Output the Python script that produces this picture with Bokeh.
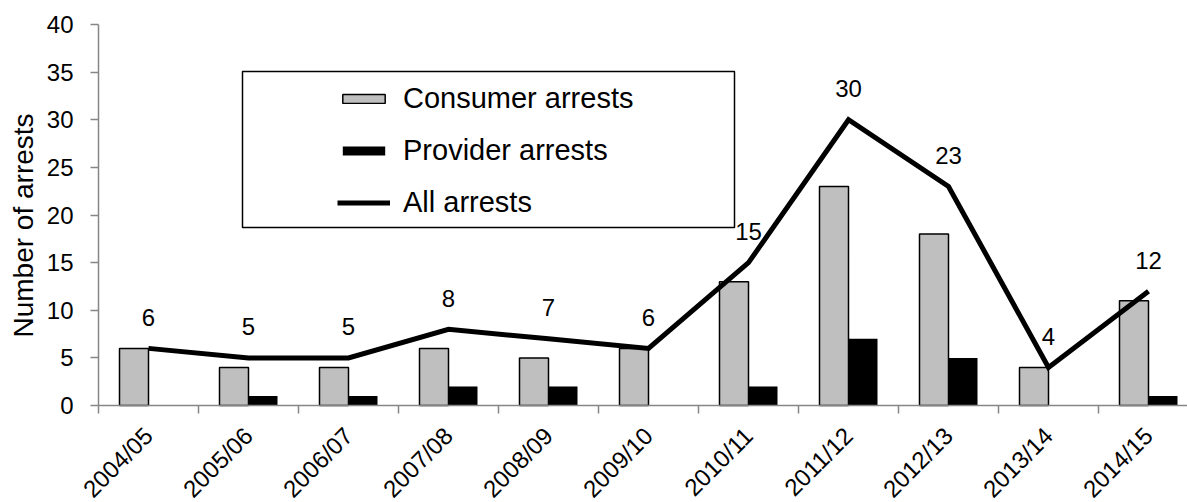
import math
from bokeh.plotting import figure
from bokeh.models import Range1d, FixedTicker, Legend, LegendItem, BoxAnnotation, Title
from bokeh.core.properties import value
from bokeh.embed import file_html
from bokeh.resources import INLINE

categories = ["2004/05", "2005/06", "2006/07", "2007/08", "2008/09", "2009/10",
              "2010/11", "2011/12", "2012/13", "2013/14", "2014/15"]
consumer = [6, 4, 4, 6, 5, 6, 13, 23, 18, 4, 11]
provider = [0, 1, 1, 2, 2, 0, 2, 7, 5, 0, 1]
all_arrests = [6, 5, 5, 8, 7, 6, 15, 30, 23, 4, 12]
y_ticks = [0, 5, 10, 15, 20, 25, 30, 35, 40]

FONT = "Liberation Sans"
AXIS_GRAY = "#868686"

n = len(categories)
centers = [i + 0.5 for i in range(n)]
bounds = [float(i) for i in range(n + 1)]
bar_w = 0.29

# The frame extends beyond the axes (which are fixed at x=0 / y=0) so that the
# tick labels and the rotated category labels are drawn inside it.
p = figure(width=1187, height=502, x_range=Range1d(-0.58, 10.89), y_range=Range1d(-10.18, 42.52),
           output_backend="svg", toolbar_location=None,
           min_border_left=40, min_border_right=0, min_border_top=0, min_border_bottom=0)
p.outline_line_color = None
p.grid.visible = False
p.background_fill_color = "white"

r_cons = p.vbar(x=[c - bar_w / 2 for c in centers], top=consumer, width=bar_w,
                fill_color="#BFBFBF", line_color="black", line_width=1.5)
r_prov = p.vbar(x=[c + bar_w / 2 for c in centers], top=provider, width=bar_w,
                fill_color="black", line_color=None)
r_all = p.line(x=centers, y=all_arrests, line_color="black", line_width=5, line_join="miter")
p.text(x=centers, y=all_arrests, text=[str(v) for v in all_arrests],
       text_font=value(FONT), text_font_size="24px", text_align="center",
       text_baseline="middle", y_offset=-31, text_color="black")

# x axis: ticks at category boundaries, names at category centres
xa = p.xaxis[0]
xa.fixed_location = 0
xa.bounds = (0, 10.89)
xa.ticker = FixedTicker(ticks=centers, minor_ticks=bounds)
xa.major_label_overrides = {float(c): lab for c, lab in zip(centers, categories)}
xa.major_label_orientation = math.pi / 4
xa.major_tick_in = 0
xa.major_tick_out = 0
xa.minor_tick_in = 0
xa.minor_tick_out = 8
xa.minor_tick_line_color = AXIS_GRAY
xa.axis_line_color = AXIS_GRAY
xa.axis_line_width = 1.5
xa.minor_tick_line_width = 1.5
xa.major_label_text_font = FONT
xa.major_label_text_font_size = "24px"
xa.major_label_text_color = "black"
xa.major_label_standoff = 18

# y axis
ya = p.yaxis[0]
ya.fixed_location = 0
ya.bounds = (0, 40)
ya.ticker = FixedTicker(ticks=y_ticks, minor_ticks=[])
ya.major_tick_in = 0
ya.major_tick_out = 8
ya.major_tick_line_color = AXIS_GRAY
ya.major_tick_line_width = 1.5
ya.axis_line_color = AXIS_GRAY
ya.axis_line_width = 1.5
ya.major_label_text_font = FONT
ya.major_label_text_font_size = "24px"
ya.major_label_text_color = "black"
ya.major_label_standoff = 17

ytitle = Title(text="Number of arrests", align="left", offset=165,
               text_font=FONT, text_font_size="28px", text_font_style="normal",
               text_color="black", standoff=3)
p.add_layout(ytitle, "left")

# legend frame
box = BoxAnnotation(left=1.44, right=6.36, bottom=18.69, top=35.07,
                    fill_alpha=0, line_color="black", line_alpha=1.0,
                    line_width=1.5, line_dash="solid")
p.add_layout(box)

legend = Legend(items=[LegendItem(label="Consumer arrests", renderers=[r_cons]),
                       LegendItem(label="Provider arrests", renderers=[r_prov]),
                       LegendItem(label="All arrests", renderers=[r_all])],
                location=(297, 283), glyph_width=53, glyph_height=11,
                label_text_font=FONT, label_text_font_size="29px", label_text_color="black",
                label_standoff=13, spacing=19, padding=10, margin=0,
                border_line_color=None, background_fill_alpha=0)
p.add_layout(legend)

open("out.html", "w").write(file_html(p, INLINE))
